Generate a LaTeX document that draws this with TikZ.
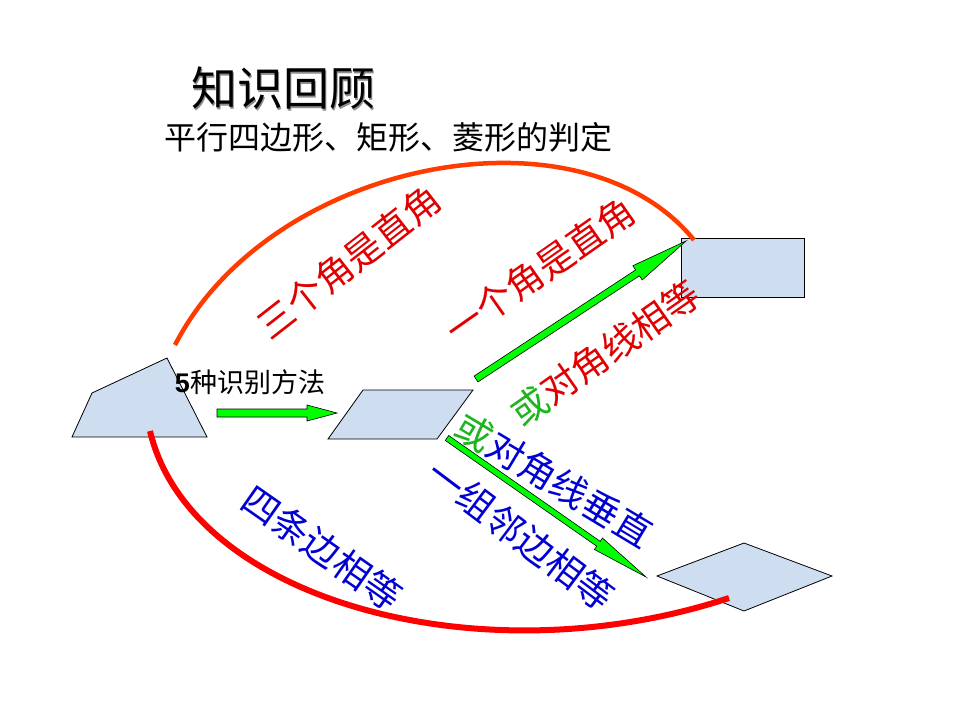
\documentclass[tikz,border=0pt]{standalone}
\usepackage{fontspec}
\setmainfont{Noto Sans CJK SC}
\newfontfamily\latinf{Liberation Sans}
\usetikzlibrary{calc}
\definecolor{shapefill}{RGB}{207,221,240}
\definecolor{arrowgreen}{RGB}{0,255,0}
\definecolor{txtred}{RGB}{225,0,0}
\definecolor{txtblue}{RGB}{0,0,210}
\definecolor{txtgreen}{RGB}{30,180,30}
\definecolor{arcorange}{RGB}{255,60,0}
\definecolor{arcred}{RGB}{255,0,0}
% #1 tail, #2 tip, #3 head length, #4 half shaft, #5 half head
\newcommand{\garrow}[5]{%
  \coordinate (#1-#2-h) at ($(#2)!#3!(#1)$);
  \path[fatarr] ($(#1)!#4!90:(#2)$) -- ($(#1-#2-h)!#4!-90:(#1)$) -- ($(#1-#2-h)!#5!-90:(#1)$)
    -- (#2) -- ($(#1-#2-h)!#5!90:(#1)$) -- ($(#1-#2-h)!#4!90:(#1)$) -- ($(#1)!#4!-90:(#2)$) -- cycle;}
\tikzset{
  shapebox/.style={draw=black, line width=0.8pt, fill=shapefill, line join=miter},
  fatarr/.style={draw=black, line width=0.6pt, fill=arrowgreen, line join=miter},
  lbl/.style={inner sep=0pt, font=\fontsize{37}{40}\selectfont},
  arcline/.style={line width=4.5pt},
}
\begin{document}
\begin{tikzpicture}[x=1pt,y=-1pt]
\useasboundingbox (0,0) rectangle (960,720);
% title
\node[inner sep=0pt, text=black!45, font=\fontsize{46}{50}\selectfont] (titleshadow) at (284.5,90.5) {知识回顾};
\node[inner sep=0pt, text=black, font=\fontsize{46}{50}\selectfont] (title) at (283,88) {知识回顾};
\node[inner sep=0pt, font=\fontsize{32}{36}\selectfont] (subtitle) at (388,137) {平行四边形、矩形、菱形的判定};
% shapes
\coordinate (tz1) at (72,437); \coordinate (tz2) at (207,437);
\coordinate (tz3) at (167,358); \coordinate (tz4) at (92,393);
\path[shapebox] (tz1) -- (tz2) -- (tz3) -- (tz4) -- cycle;
\coordinate (pg1) at (328,439); \coordinate (pg2) at (437,439);
\coordinate (pg3) at (473,390); \coordinate (pg4) at (363,390);
\path[shapebox] (pg1) -- (pg2) -- (pg3) -- (pg4) -- cycle;
\coordinate (rc1) at (681,238); \coordinate (rc2) at (804,297);
\path[shapebox] (rc1) rectangle (rc2);
\coordinate (rh1) at (657,576); \coordinate (rh2) at (744,543);
\coordinate (rh3) at (832,576); \coordinate (rh4) at (744,611);
\path[shapebox] (rh1) -- (rh2) -- (rh3) -- (rh4) -- cycle;
% arcs
\coordinate (ua) at (175,345); \coordinate (ub) at (694,240);
\draw[arcline, arcorange] (ua) .. controls (270,160) and (580,100) .. (ub);
\coordinate (la) at (150,431); \coordinate (lb) at (729,598);
\draw[arcline, arcred, line width=6pt] (la) .. controls (190,600) and (480,680) .. (lb);
% green arrows
\coordinate (h1) at (217,413); \coordinate (h2) at (337,413);
\garrow{h1}{h2}{30pt}{4pt}{8pt}
\coordinate (u1) at (476,379); \coordinate (u2) at (686,241);
\garrow{u1}{u2}{58pt}{3.5pt}{8.5pt}
\coordinate (d1) at (447,438); \coordinate (d2) at (646,577);
\garrow{d1}{d2}{58pt}{3pt}{7pt}
% labels
\node[inner sep=0pt, font=\fontsize{27}{30}\selectfont] (five) at (250,382) {{\latinf\bfseries 5}种识别方法};
\node[lbl, txtred, rotate=38] (three) at (349,262) {三个角是直角};
\node[lbl, txtred, rotate=35] (one) at (540,270) {一个角是直角};
\node[lbl, txtred, rotate=35] (diag) at (605,353) {\textcolor{txtgreen}{或}对角线相等};
\node[lbl, txtblue, rotate=-31] (perp) at (554,480) {\textcolor{txtgreen}{或}对角线垂直};
\node[lbl, txtblue, rotate=-37] (adj) at (521,535) {一组邻边相等};
\node[lbl, txtblue, rotate=-35] (four) at (322,548) {四条边相等};
\end{tikzpicture}
\end{document}
